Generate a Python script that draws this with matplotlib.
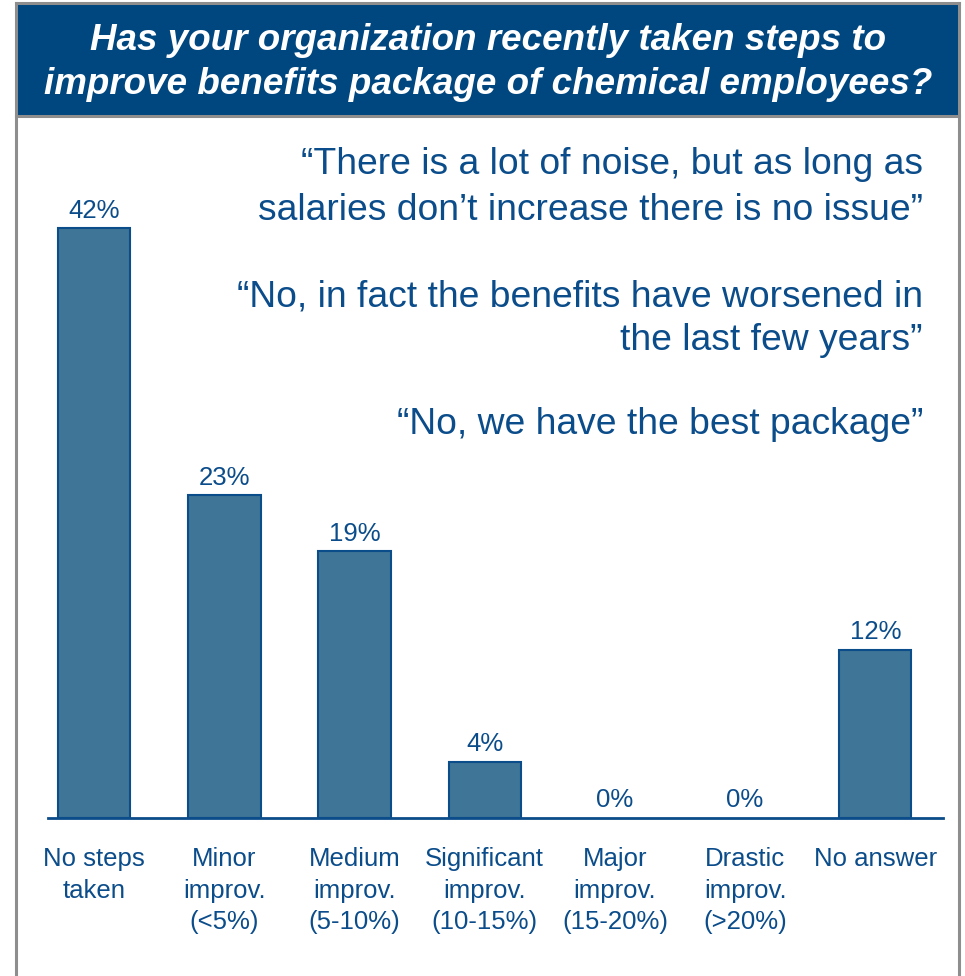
import matplotlib
matplotlib.use("Agg")
import matplotlib.pyplot as plt
from matplotlib.patches import Rectangle
from matplotlib.lines import Line2D

categories = [
    "No steps\ntaken",
    "Minor\nimprov.\n(<5%)",
    "Medium\nimprov.\n(5-10%)",
    "Significant\nimprov.\n(10-15%)",
    "Major\nimprov.\n(15-20%)",
    "Drastic\nimprov.\n(>20%)",
    "No answer",
]
values = [42, 23, 19, 4, 0, 0, 12]

title_lines = [
    "Has your organization recently taken steps to",
    "improve benefits package of chemical employees?",
]
quote_lines = [
    "\u201cThere is a lot of noise, but as long as",
    "salaries don\u2019t increase there is no issue\u201d",
    "\u201cNo, in fact the benefits have worsened in",
    "the last few years\u201d",
    "\u201cNo, we have the best package\u201d",
]

W, H = 965, 976
DPI = 100
plt.rcParams["font.family"] = ["Liberation Sans", "DejaVu Sans"]

BAR = "#3F7596"
EDGE = "#0B4C8A"
TEXT = "#0B4C8A"
NAVY = "#00467F"
GRAY = "#8E8E8E"

fig = plt.figure(figsize=(W / DPI, H / DPI), dpi=DPI)


def px(x, y):
    """pixel (from top-left) -> figure fraction"""
    return x / W, 1 - y / H


def hline(xa, xb, y):
    fig.add_artist(Line2D([xa / W, xb / W], [1 - y / H, 1 - y / H], color=GRAY,
                          lw=2.2, transform=fig.transFigure))


def vline(x, ya, yb):
    fig.add_artist(Line2D([x / W, x / W], [1 - ya / H, 1 - yb / H], color=GRAY,
                          lw=2.2, transform=fig.transFigure))


# Frame and title banner
vline(16, 3, H)
vline(959, 3, H)
hline(16, 959, 3)
x0, y0 = px(17, 115)
x1, y1 = px(958, 4)
fig.add_artist(Rectangle((x0, y0), x1 - x0, y1 - y0, facecolor=NAVY,
                         edgecolor="none", transform=fig.transFigure))
hline(16, 959, 116)

for line, yy in zip(title_lines, [40, 85]):
    fx, fy = px(488, yy)
    fig.text(fx, fy, line, ha="center", va="center", color="white",
             fontsize=26.5, fontweight="bold", fontstyle="italic")

# Bar chart
axl, axb = 48 / W, 158 / H
ax = fig.add_axes([axl, axb, (943 - 48) / W, 702 / H])
xs = list(range(len(categories)))
lws = [1.5 if v > 0 else 0 for v in values]
ax.bar(xs, values, width=0.555, color=BAR, edgecolor=EDGE, linewidth=lws)
ax.set_xlim(-0.355, 6.52)
ax.set_ylim(0, 50)
for s in ["top", "right", "left"]:
    ax.spines[s].set_visible(False)
ax.spines["bottom"].set_color(EDGE)
ax.spines["bottom"].set_linewidth(2)
ax.set_yticks([])
ax.set_xticks(xs)
ax.set_xticklabels(categories, fontsize=18.5, color=TEXT, linespacing=1.4)
ax.tick_params(axis="x", length=0, pad=21)
ax.patch.set_alpha(0)

for x, v in zip(xs, values):
    ax.annotate(f"{v}%", (x, v), xytext=(0, 4), textcoords="offset points",
                ha="center", va="bottom", fontsize=18.5, color=TEXT)

for line, yy in zip(quote_lines, [165, 210, 297, 341, 425]):
    fx, fy = px(923, yy)
    fig.text(fx, fy, line, ha="right", va="center", color=TEXT, fontsize=26.8)

fig.savefig("out.png", dpi=DPI)
